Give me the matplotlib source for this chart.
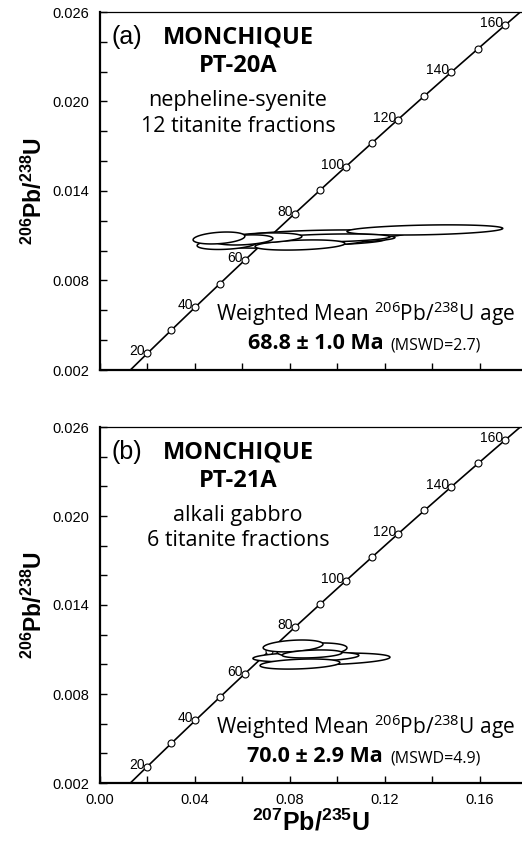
#!/usr/bin/env python3
from __future__ import annotations

import matplotlib

matplotlib.use("Agg")
import matplotlib.pyplot as plt
import numpy as np
from matplotlib.ticker import FixedLocator, MultipleLocator, NullFormatter


plt.rcParams["font.family"] = ["Liberation Sans", "DejaVu Sans"]
plt.rcParams["mathtext.fontset"] = "custom"
plt.rcParams["mathtext.rm"] = "Open Sans"
plt.rcParams["mathtext.bf"] = "Liberation Sans:bold"

LAMBDA_238 = 1.55125e-10
LAMBDA_235 = 9.8485e-10

# concordia marks (Ma)
MARK_AGES = [20, 30, 40, 50, 60, 70, 80, 90, 100, 110, 120, 130, 140, 150, 160]
LABEL_AGES = [20, 40, 60, 80, 100, 120, 140, 160]

Y_TICKS = [0.002, 0.008, 0.014, 0.020, 0.026]
X_TICKS = [0.00, 0.04, 0.08, 0.12, 0.16]

# PT-20A: 207Pb/235U, 2s, 206Pb/238U, 2s, rho
PT20_X = [0.0501, 0.0535, 0.0606, 0.0737, 0.0800, 0.0842, 0.0884, 0.0943, 0.1368, 0.0842, 0.0682, 0.0968]
PT20_SX = [0.0109, 0.0126, 0.0122, 0.0261, 0.0316, 0.0358, 0.0358, 0.0341, 0.0328, 0.0189, 0.0168, 0.0253]
PT20_Y = [0.01085, 0.01045, 0.01072, 0.01051, 0.01058, 0.01065, 0.01078, 0.01105, 0.01139, 0.01038, 0.01085, 0.01085]
PT20_SY = [0.00040, 0.00037, 0.00034, 0.00034, 0.00034, 0.00034, 0.00034, 0.00034, 0.00034, 0.00034, 0.00034, 0.00027]
PT20_RHO = [0.3, 0.3, 0.3, 0.3, 0.3, 0.3, 0.3, 0.3, 0.3, 0.3, 0.3, 0.3]

# PT-21A
PT21_X = [0.0813, 0.0893, 0.0893, 0.0867, 0.0960, 0.0842]
PT21_SX = [0.0126, 0.0147, 0.0126, 0.0223, 0.0261, 0.0168]
PT21_Y = [0.01124, 0.01097, 0.01070, 0.01050, 0.01036, 0.01002]
PT21_SY = [0.00040, 0.00047, 0.00027, 0.00034, 0.00040, 0.00034]
PT21_RHO = [0.3, 0.3, 0.3, 0.3, 0.3, 0.3]

PANELS = [
    {
        "tag": "(a)", "sample": "PT-20A", "rock": "nepheline-syenite",
        "fractions": "12 titanite fractions", "age": "68.8 \u00b1 1.0 Ma", "mswd": "(MSWD=2.7)",
        "x": PT20_X, "sx": PT20_SX, "y": PT20_Y, "sy": PT20_SY, "rho": PT20_RHO,
    },
    {
        "tag": "(b)", "sample": "PT-21A", "rock": "alkali gabbro",
        "fractions": "6 titanite fractions", "age": "70.0 \u00b1 2.9 Ma", "mswd": "(MSWD=4.9)",
        "x": PT21_X, "sx": PT21_SX, "y": PT21_Y, "sy": PT21_SY, "rho": PT21_RHO,
    },
]

XMAX = 0.1777
ANNOT_FONT = ["Open Sans", "DejaVu Sans"]


def concordia(age_ma):
    t = np.asarray(age_ma, dtype=float) * 1e6
    return np.exp(LAMBDA_235 * t) - 1, np.exp(LAMBDA_238 * t) - 1


def draw_ellipse(ax, cx, sx, cy, sy, rho, z):
    th = np.linspace(0, 2 * np.pi, 200)
    ex = cx + sx * np.cos(th)
    ey = cy + sy * (rho * np.cos(th) + np.sqrt(1 - rho ** 2) * np.sin(th))
    ax.fill(ex, ey, facecolor="white", edgecolor="black", lw=1.1, zorder=z)


def draw_panel(ax, panel, show_xticklabels):
    cx, cy = concordia(np.linspace(5, 190, 400))
    ax.plot(cx, cy, color="black", lw=1.2, zorder=3)
    mx, my = concordia(MARK_AGES)
    ax.plot(mx, my, "o", ms=5, mfc="white", mec="black", mew=0.8, zorder=3.5)
    for age in LABEL_AGES:
        lx, ly = concordia(age)
        ax.annotate(str(age), (lx, ly), xytext=(-2, 2), textcoords="offset pixels",
                    ha="right", va="center", fontsize=10)

    # widest ellipses first, so the small ones sit on top
    order = sorted(range(len(panel["x"])), key=lambda i: -panel["sx"][i])
    for k, i in enumerate(order):
        draw_ellipse(ax, panel["x"][i], panel["sx"][i], panel["y"][i], panel["sy"][i],
                     panel["rho"][i], 4 + k * 0.01)

    ax.set_xlim(0, XMAX)
    ax.set_ylim(0.002, 0.026)
    ax.xaxis.set_major_locator(FixedLocator(X_TICKS))
    ax.xaxis.set_minor_locator(MultipleLocator(0.02))
    ax.yaxis.set_major_locator(FixedLocator(Y_TICKS))
    ax.yaxis.set_minor_locator(MultipleLocator(0.002))
    ax.tick_params(which="both", direction="in", length=5, width=1.0, labelsize=10.5)
    ax.tick_params(axis="y", pad=8)
    ax.tick_params(axis="x", pad=7)
    ax.xaxis.set_major_formatter(lambda v, p: f"{v:.2f}")
    ax.yaxis.set_major_formatter(lambda v, p: f"{v:.3f}")
    if not show_xticklabels:
        ax.xaxis.set_major_formatter(NullFormatter())

    ax.spines["right"].set_visible(False)
    ax.spines["left"].set_linewidth(1.6)
    ax.spines["bottom"].set_linewidth(1.6)
    ax.spines["top"].set_linewidth(0.9)

    ax.set_ylabel(r"$^{\mathbf{206}}$Pb/$^{\mathbf{238}}$U", fontsize=16.5, fontweight="bold", labelpad=4)

    tr = ax.transAxes
    ax.text(0.027, 0.9115, panel["tag"], transform=tr, fontsize=18, va="baseline", ha="left")
    ax.text(0.327, 0.9115, "MONCHIQUE", transform=tr, fontsize=17, fontweight="bold",
            family=ANNOT_FONT, va="baseline", ha="center")
    ax.text(0.327, 0.832, panel["sample"], transform=tr, fontsize=17, fontweight="bold",
            family=ANNOT_FONT, va="baseline", ha="center")
    ax.text(0.327, 0.737, panel["rock"], transform=tr, fontsize=15.5, family=ANNOT_FONT,
            va="baseline", ha="center")
    ax.text(0.327, 0.666, panel["fractions"], transform=tr, fontsize=15.5, family=ANNOT_FONT,
            va="baseline", ha="center")
    ax.text(0.628, 0.138, r"Weighted Mean $^{206}$Pb/$^{238}$U age", transform=tr, fontsize=15,
            family=ANNOT_FONT, va="baseline", ha="center")
    ax.text(0.671, 0.058, panel["age"], transform=tr, fontsize=15.5, fontweight="bold",
            family=ANNOT_FONT, va="baseline", ha="right")
    ax.text(0.687, 0.058, panel["mswd"], transform=tr, fontsize=11.5, family=ANNOT_FONT,
            va="baseline", ha="left")


def main() -> int:
    fig = plt.figure(figsize=(5.22, 8.55), dpi=100)
    ax_a = fig.add_axes([100 / 522, 1 - 370 / 855, 422 / 522, 358 / 855])
    ax_b = fig.add_axes([100 / 522, 1 - 783 / 855, 422 / 522, 356 / 855])
    draw_panel(ax_a, PANELS[0], show_xticklabels=False)
    draw_panel(ax_b, PANELS[1], show_xticklabels=True)
    ax_b.set_xlabel(r"$^{\mathbf{207}}$Pb/$^{\mathbf{235}}$U", fontsize=18, fontweight="bold", labelpad=2)
    fig.savefig("out.png", dpi=100, facecolor="white")
    plt.close(fig)
    return 0


if __name__ == "__main__":
    raise SystemExit(main())
